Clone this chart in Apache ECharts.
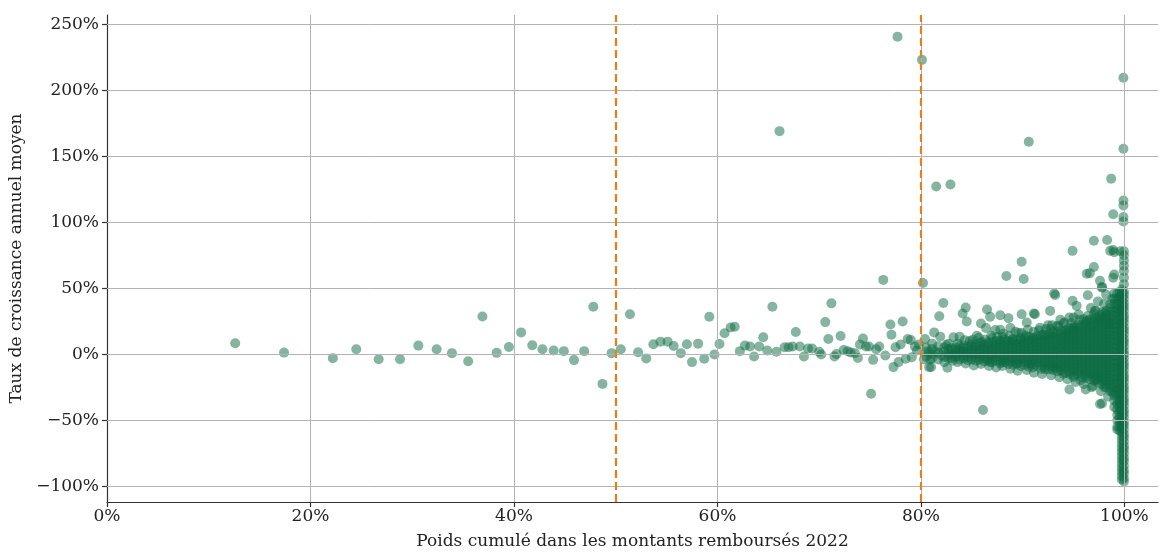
<!DOCTYPE html>
<html>
<head>
<meta charset="utf-8">
<script src="https://cdn.jsdelivr.net/npm/echarts@6/dist/echarts.min.js"></script>
<style>
html,body{margin:0;padding:0;background:#fff;}
#chart{width:1160px;height:555px;}
</style>
</head>
<body>
<div id="chart"></div>
<script>
// ---- tick labels / axis values ----
const xTicks = [0, 20, 40, 60, 80, 100];
const yTicks = [-100, -50, 0, 50, 100, 150, 200, 250];
const thresholds = [50, 80];
const xLabel = 'Poids cumulé dans les montants remboursés 2022';
const yLabel = 'Taux de croissance annuel moyen';

// ---- individual, readable points [x %, y %] ----
const sparsePoints = [
 [12.6,8.3],[17.4,1.2],[22.2,-3],[24.5,3.8],[26.7,-3.8],[28.8,-3.8],[30.6,6.5],[32.4,3.8],[33.9,0.8],[35.5,-5.3],
 [36.9,28.5],[38.3,1],[39.5,5.5],[40.7,16.5],[41.8,6.8],[42.8,3.8],[43.9,2.8],[44.9,2.3],[45.9,-4.5],[46.9,2.3],
 [47.8,36],[48.7,-22.5],[49.6,0.8],[50.5,3.8],[51.4,30.3],[52.2,1.5],[53.0,-3.2],[53.7,7.5],[54.4,9.5],[55.1,9.5],
 [55.7,6.2],[56.4,0.8],[57.0,7.5],[57.5,-6],[58.1,8],[58.7,-3.5],[59.2,28.3],[59.7,-0.2],[60.2,7.7],[60.7,15.8],
 [61.3,20.3],[61.7,20.8],[62.2,2.3],[62.7,6.5],[63.2,5.8],[63.6,-1.7],[64.1,5.8],[64.5,12.8],[64.9,2.8],[65.4,36],
 [65.8,1.8],[66.1,169],[66.6,5.3],[67.0,5.3],[67.4,5.8],[67.7,16.8],[68.1,5.8],[68.5,-1.7],[68.9,4.3],[69.3,4.3],
 [70.0,1.8],[70.2,-0.2],[70.6,24.3],[70.9,11.5],[71.2,38.5],[71.5,-1.7],[71.7,0.2],[72.1,13.8],[72.4,3.2],[72.8,2.3],
 [73.1,1.3],[73.5,0.8],[73.8,-2.8],[74.0,7.3],[74.3,11.8],[74.6,5.8],[74.9,5.8],[75.1,-30],[75.3,-4.3],[75.6,3.8],
 [75.9,5.8],[76.3,56.3],[76.5,-1],[77.0,22.5],[77.1,14.8],[77.3,-9.8],[77.5,5.3],[77.7,240.6],[77.8,-6],[78.0,7.3],
 [78.2,24.8],[78.5,-3.5],[78.7,11.5],[79.0,10.8],[79.1,-2.3],[79.4,5.8],[79.6,2.8],[79.8,7.3],[80.1,223],[80.2,54],
 [80.4,11.5],[80.8,-9.8],[80.8,1.5]
];

const midPoints = [
 [81.0,-9.8],[81.3,16.5],[81.5,127],[81.8,28.8],[81.9,13.3],[82.2,38.8],[82.6,-10.3],[82.9,128.6],[83.2,12.8],[83.8,13.3],
 [84.1,30.8],[84.4,35.3],[84.5,24.8],[85.9,23.3],[86.1,-42.3],[86.4,19.8],[86.5,33.8],[86.8,28.3],[87.3,18.3],[87.8,29.5],
 [87.8,18.5],[88.4,59.2],[88.6,27.3],[88.8,19.8],[89.9,70],[90.1,57],[89.9,30.3],[90.4,24],[90.6,161],[91.1,30.8],
 [91.2,30.3],[92.7,32.8],[93.1,46],[92.2,-11.5],[93.2,-10.3],[90.8,-7.3],[89.4,-7.3],[88.1,-6],[86.8,-6],
 [84.8,10],[85.5,14],[86.0,9],[87.0,12],[88.0,13],[89.0,11],[89.6,16],[90.3,14],[91.0,12],[91.6,18],
 [92.0,15],[92.5,22],[93.0,17],[93.7,26],[94.3,18],[95.5,30],[96.7,35],[97.4,40],[98.2,45],
 [80.9,-4],[81.4,2],[82.0,-1],[82.5,7],[83.1,-5],[80.3,-4]
];

// ---- loose points on the edges of the dense band ----
const edgePoints = [
 [83.6,8],[84.3,10.5],[85.1,11],[85.7,12.5],[86.3,11],[86.9,14],[87.5,13],[88.1,15.5],[88.7,14],[89.3,17],
 [89.9,16],[90.5,18.5],[91.1,17],[91.7,20],[92.3,19],[92.9,22],[93.5,21],[94.1,24],[94.8,23.5],[95.6,26],
 [96.4,29],[97.2,33],[98.0,38],[98.8,42],
 [83.6,-6],[84.4,-7],[85.2,-8.5],[85.9,-7.5],[86.7,-9],[87.4,-10],[88.0,-9],[88.8,-11],[89.5,-12.5],[90.4,-12],
 [91.1,-14],[91.9,-15],[92.8,-16],[93.6,-17.5],[94.4,-19],[95.2,-21],[96.0,-22.5],[96.9,-24],[97.7,-28],[98.4,-32],
 [99.0,-40]
];

const haloPoints = [
 [92.7,19],[93.4,21.5],[94.0,23.3],[94.6,27.8],[95.0,20.3],[96.0,26.5],[97.0,30.3],[97.6,26.5],[98.1,31.5],[98.5,22.8],
 [94.9,40.4],[95.3,36.6],[95.0,27.8],[96.3,25.3],[97.1,32.8],[98.0,27.8],[93.2,44.8],[96.4,44.6],[97.8,50.4],[97.8,51],
 [96.3,61],[96.6,61.4],[97.0,66],[98.9,58],[97.6,55.6],[94.9,78.3],[97.0,86],[98.3,86.5],[98.6,78.3],[99.0,77.3],
 [98.9,79],[99.0,60.4],[98.7,133],[98.9,106],[99.9,209.5],[99.9,155.6],[99.9,116.5],[99.9,112.6],[99.9,104],[99.9,100.5],
 [99.6,78],
 [94.6,-26.8],[96.2,-26.8],[97.2,-19.3],[97.6,-37.8],[98.0,-25],[98.8,-28.5],[94.0,-14.8],[95.0,-17.3],[95.7,-19.8],
 [96.8,-25],[99.3,-50],[99.3,-55],[99.3,-57],[97.8,-37.4]
];

// ---- band near 0 %, 80–83 % : [x, [y values in that slice]] ----
const bandSlices = [
 [80.5,[2,-2,5]],
 [81.1,[0,4,-3,8]],
 [81.7,[1,-4,6]],
 [82.3,[2,-2,5,-6]],
 [82.7,[0,4,-3,8]]
];

// ---- dense core 83–99 % ----
const coreSlices = [
 [83.0,[-3,-0.5,2,4.5]],
 [83.4,[-2,0.5,3,5]],
 [83.8,[-4,-1.5,1,3.5,6]],
 [84.2,[-3,-0.5,2,4.5,6.5]],
 [84.6,[-4.5,-2,0.5,3,5.5]],
 [85.0,[-4,-1.5,1,3.5,6,8]],
 [85.4,[-5,-2.5,0,2.5,5,7]],
 [85.8,[-4,-1.5,1,3.5,6,8.5]],
 [86.2,[-5.5,-3,-0.5,2,4.5,7]],
 [86.6,[-5,-2.5,0,2.5,5,7.5,9]],
 [87.0,[-6,-3.5,-1,1.5,4,6.5,9]],
 [87.4,[-5,-2.5,0,2.5,5,7.5,10]],
 [87.8,[-7,-4.5,-2,0.5,3,5.5,8,10]],
 [88.2,[-6,-3.5,-1,1.5,4,6.5,9,11]],
 [88.6,[-7.5,-5,-2.5,0,2.5,5,7.5,10]],
 [89.0,[-8,-5.5,-3,-0.5,2,4.5,7,9.5,11.5]],
 [89.4,[-7,-4.5,-2,0.5,3,5.5,8,10.5]],
 [89.8,[-9,-6.5,-4,-1.5,1,3.5,6,8.5,11,12.5]],
 [90.2,[-8,-5.5,-3,-0.5,2,4.5,7,9.5,12]],
 [90.6,[-9.5,-7,-4.5,-2,0.5,3,5.5,8,10.5,13]],
 [91.0,[-10,-7.5,-5,-2.5,0,2.5,5,7.5,10,12.5]],
 [91.4,[-9,-6.5,-4,-1.5,1,3.5,6,8.5,11,13.5]],
 [91.8,[-11,-8.5,-6,-3.5,-1,1.5,4,6.5,9,11.5,14]],
 [92.2,[-10,-7.5,-5,-2.5,0,2.5,5,7.5,10,12.5,14.5]],
 [92.6,[-11.5,-9,-6.5,-4,-1.5,1,3.5,6,8.5,11,13.5,15.5]],
 [93.0,[-12,-9.5,-7,-4.5,-2,0.5,3,5.5,8,10.5,13,15.5]],
 [93.4,[-13,-10.5,-8,-5.5,-3,-0.5,2,4.5,7,9.5,12,14.5,17]],
 [93.8,[-12.5,-10,-7.5,-5,-2.5,0,2.5,5,7.5,10,12.5,15,17.5]],
 [94.2,[-14,-11.5,-9,-6.5,-4,-1.5,1,3.5,6,8.5,11,13.5,16,18]],
 [94.6,[-15,-12.5,-10,-7.5,-5,-2.5,0,2.5,5,7.5,10,12.5,15,17.5,19.5]],
 [95.0,[-16,-13.5,-11,-8.5,-6,-3.5,-1,1.5,4,6.5,9,11.5,14,16.5,19,21]],
 [95.4,[-15,-12.5,-10,-7.5,-5,-2.5,0,2.5,5,7.5,10,12.5,15,17.5,20,22]],
 [95.8,[-17.5,-15,-12.5,-10,-7.5,-5,-2.5,0,2.5,5,7.5,10,12.5,15,17.5,20,22.5]],
 [96.2,[-18,-15.5,-13,-10.5,-8,-5.5,-3,-0.5,2,4.5,7,9.5,12,14.5,17,19.5,22,24]],
 [96.6,[-19,-16.5,-14,-11.5,-9,-6.5,-4,-1.5,1,3.5,6,8.5,11,13.5,16,18.5,21,23.5,26]],
 [97.0,[-20,-17.5,-15,-12.5,-10,-7.5,-5,-2.5,0,2.5,5,7.5,10,12.5,15,17.5,20,22.5,25,27]],
 [97.4,[-21.5,-19,-16.5,-14,-11.5,-9,-6.5,-4,-1.5,1,3.5,6,8.5,11,13.5,16,18.5,21,23.5,26,28.5]],
 [97.8,[-23,-20.5,-18,-15.5,-13,-10.5,-8,-5.5,-3,-0.5,2,4.5,7,9.5,12,14.5,17,19.5,22,24.5,27,29.5,31.5]],
 [98.2,[-25,-22.5,-20,-17.5,-15,-12.5,-10,-7.5,-5,-2.5,0,2.5,5,7.5,10,12.5,15,17.5,20,22.5,25,27.5,30,33]],
 [98.6,[-28,-25.5,-23,-20.5,-18,-15.5,-13,-10.5,-8,-5.5,-3,-0.5,2,4.5,7,9.5,12,14.5,17,19.5,22,24.5,27,29.5,32,35,38]],
 [99.0,[-35,-31,-28,-25,-22,-19,-16,-13,-10,-7,-4,-1,2,5,8,11,14,17,20,23,26,29,32,35,38,42,46]]
];

// ---- vertical column of products close to 100 % ----
const columnSlices = [
 [99.3,[-46,-42,-38,-34,-30,-26,-22,-18,-14,-10,-6,-2,2,6,10,14,18,22,26,30,34,38,42,46]],
 [99.55,[-58,-54.5,-51,-47.5,-44,-40.5,-37,-33.5,-30,-26.5,-23,-19.5,-16,-12.5,-9,-5.5,-2,1.5,5,8.5,12,15.5,19,22.5,
         26,29.5,33,36.5,40,43.5,47]],
 [99.75,[-95,-92,-89,-86,-83,-80,-77,-74,-71,-68,-65,-62,-59,-56,-53,-50,-47,-44,-41,-38,-35,-32,-29,-26,-23,-20,
         -17,-14,-11,-8,-5,-2,1,4,7,10,13,16,19,22,25,28,31,34,37,40,43,46,49]],
 [99.95,[-96.5,-94,-90.5,-88,-84.5,-81,-78.5,-75,-72,-69.5,-66,-63,-60.5,-57,-54,-51.5,-48,-45,-42.5,-39,-36,-33.5,-30,-27,
         -24.5,-21,-18,-15.5,-12,-9,-6.5,-3,0,2.5,6,9,11.5,15,18,20.5,24,27,29.5,33,36,38.5,42,45,47.5,53,58,63,67,71,75,78]]
];

// ---- build series data ----
const slicePoints = [];
[bandSlices, coreSlices, columnSlices].forEach(function (group) {
  group.forEach(function (s) {
    s[1].forEach(function (y) { slicePoints.push([s[0], y]); });
  });
});
const allPoints = sparsePoints.concat(midPoints, edgePoints, haloPoints, slicePoints);

const FONT = 'DejaVu Serif';
const FS = 17;
const pct = function (v) { return (v < 0 ? '\u2212' + Math.abs(v) : v) + '%'; };

const chart = echarts.init(document.getElementById('chart'), null, {renderer: 'canvas'});
chart.setOption({
  animation: false,
  backgroundColor: '#ffffff',
  grid: {left: 107, right: 2, top: 15, bottom: 49, containLabel: false},
  xAxis: {
    type: 'value', min: 0, max: 103.3,
    name: xLabel, nameLocation: 'middle', nameGap: 31,
    nameTextStyle: {fontFamily: FONT, fontSize: FS, color: '#222'},
    axisLine: {show: true, onZero: false, lineStyle: {color: '#333', width: 1.2}},
    axisTick: {show: true, length: 5, customValues: xTicks, lineStyle: {color: '#333', width: 1.2}},
    axisLabel: {customValues: xTicks, formatter: pct, fontFamily: FONT, fontSize: FS, color: '#222', margin: 6},
    splitLine: {show: false}
  },
  yAxis: {
    type: 'value', min: -112, max: 257,
    name: yLabel, nameLocation: 'middle', nameGap: 80, nameRotate: 90,
    nameTextStyle: {fontFamily: FONT, fontSize: FS, color: '#222'},
    axisLine: {show: true, onZero: false, lineStyle: {color: '#333', width: 1.2}},
    axisTick: {show: true, length: 5, customValues: yTicks, lineStyle: {color: '#333', width: 1.2}},
    axisLabel: {customValues: yTicks, formatter: pct, fontFamily: FONT, fontSize: FS, color: '#222', margin: 8},
    splitLine: {show: false}
  },
  series: [
    {
      type: 'scatter',
      data: allPoints,
      symbolSize: 10,
      itemStyle: {color: '#0b6b44', opacity: 0.5},
      z: 2
    },
    {
      type: 'scatter',
      data: [],
      z: 3,
      silent: true,
      markLine: {
        silent: true, symbol: 'none', animation: false,
        label: {show: false},
        lineStyle: {color: '#b3b3b3', width: 1, type: 'solid'},
        data: xTicks.filter(function (v) { return v > 0; }).map(function (v) { return {xAxis: v}; })
          .concat(yTicks.map(function (v) { return {yAxis: v}; }))
      }
    },
    {
      type: 'scatter',
      data: [],
      z: 4,
      silent: true,
      markLine: {
        silent: true, symbol: 'none', animation: false,
        label: {show: false},
        lineStyle: {color: '#e67e22', width: 2.2, type: [8, 4]},
        data: thresholds.map(function (v) { return {xAxis: v}; })
      }
    }
  ]
});
</script>
</body>
</html>
